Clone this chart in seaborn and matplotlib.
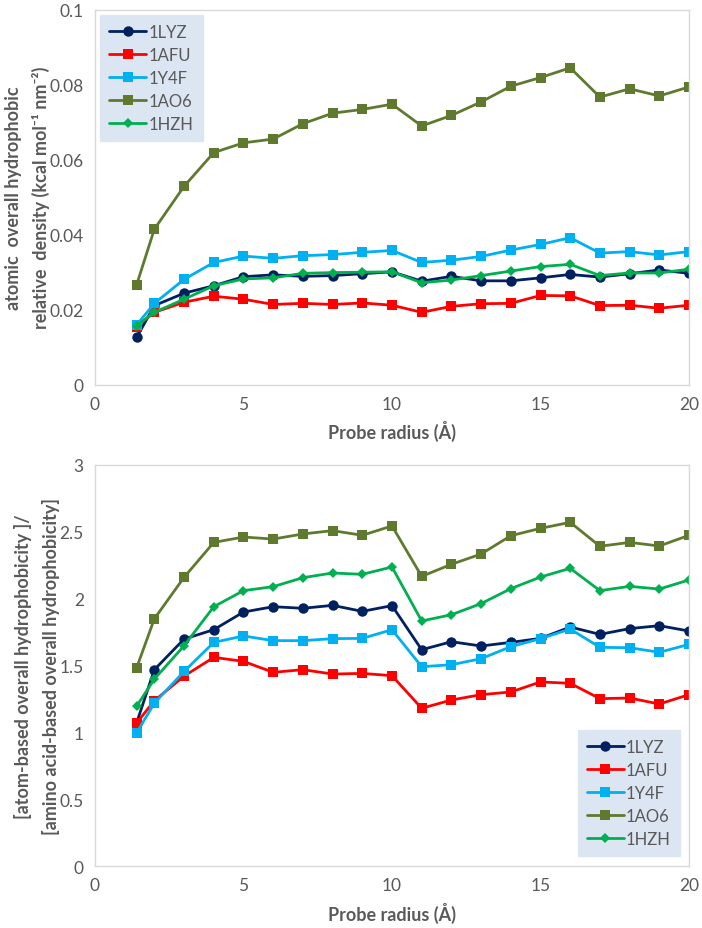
import matplotlib
matplotlib.use("Agg")
import matplotlib.pyplot as plt
import seaborn as sns
import pandas as pd

probe_radius = [1.4, 2, 3, 4, 5, 6, 7, 8, 9, 10, 11, 12, 13, 14, 15, 16, 17, 18, 19, 20]
series_names = ["1LYZ", "1AFU", "1Y4F", "1AO6", "1HZH"]

# Top panel: atomic overall hydrophobic relative density
top_1LYZ = [0.0126, 0.0211, 0.0244, 0.0264, 0.0288, 0.0293, 0.0289, 0.0291, 0.0296, 0.0301,
            0.0276, 0.0289, 0.0277, 0.0277, 0.0285, 0.0294, 0.0287, 0.0296, 0.0306, 0.0297]
top_1AFU = [0.0155, 0.0193, 0.0220, 0.0236, 0.0228, 0.0214, 0.0217, 0.0214, 0.0218, 0.0212,
            0.0193, 0.0209, 0.0216, 0.0217, 0.0238, 0.0237, 0.0211, 0.0212, 0.0204, 0.0212]
top_1Y4F = [0.0159, 0.0217, 0.0281, 0.0326, 0.0343, 0.0337, 0.0344, 0.0347, 0.0353, 0.0358,
            0.0326, 0.0332, 0.0342, 0.0359, 0.0374, 0.0392, 0.0351, 0.0355, 0.0346, 0.0355]
top_1AO6 = [0.0266, 0.0415, 0.0529, 0.0619, 0.0645, 0.0655, 0.0696, 0.0724, 0.0734, 0.0748,
            0.0690, 0.0718, 0.0754, 0.0796, 0.0819, 0.0845, 0.0767, 0.0789, 0.0770, 0.0794]
top_1HZH = [0.0157, 0.0193, 0.0228, 0.0264, 0.0282, 0.0285, 0.0297, 0.0299, 0.0300, 0.0301,
            0.0272, 0.0279, 0.0291, 0.0303, 0.0315, 0.0321, 0.0291, 0.0298, 0.0298, 0.0308]

# Bottom panel: atom-based / amino-acid-based overall hydrophobicity
bot_1LYZ = [1.07, 1.469, 1.698, 1.768, 1.900, 1.940, 1.928, 1.950, 1.905, 1.948,
            1.618, 1.678, 1.646, 1.673, 1.703, 1.788, 1.733, 1.776, 1.798, 1.758]
bot_1AFU = [1.070, 1.237, 1.421, 1.561, 1.531, 1.449, 1.469, 1.436, 1.441, 1.424,
            1.180, 1.242, 1.282, 1.302, 1.377, 1.367, 1.252, 1.257, 1.212, 1.282]
bot_1Y4F = [0.995, 1.219, 1.456, 1.673, 1.721, 1.686, 1.686, 1.701, 1.703, 1.768,
            1.491, 1.506, 1.551, 1.641, 1.701, 1.773, 1.636, 1.633, 1.599, 1.658]
bot_1AO6 = [1.481, 1.850, 2.160, 2.421, 2.461, 2.446, 2.484, 2.509, 2.474, 2.544,
            2.167, 2.257, 2.334, 2.471, 2.526, 2.571, 2.392, 2.421, 2.394, 2.474]
bot_1HZH = [1.195, 1.399, 1.648, 1.940, 2.060, 2.090, 2.157, 2.192, 2.182, 2.237,
            1.833, 1.880, 1.963, 2.075, 2.162, 2.227, 2.060, 2.092, 2.072, 2.140]

x_ticks = [0, 5, 10, 15, 20]
top_yticks = [0, 0.02, 0.04, 0.06, 0.08, 0.1]
top_yticklabels = ["0", "0.02", "0.04", "0.06", "0.08", "0.1"]
bot_yticks = [0, 0.5, 1, 1.5, 2, 2.5, 3]
bot_yticklabels = ["0", "0.5", "1", "1.5", "2", "2.5", "3"]

palette = {"1LYZ": "#002060", "1AFU": "#ff0000", "1Y4F": "#00b0f0",
           "1AO6": "#5f7a2f", "1HZH": "#00b050"}
markers = {"1LYZ": "o", "1AFU": "s", "1Y4F": "s", "1AO6": "s", "1HZH": "D"}
msizes = {"1LYZ": 7.5, "1AFU": 7.5, "1Y4F": 7.5, "1AO6": 7.5, "1HZH": 5.5}

sns.set_theme(style="white")
plt.rcParams["font.family"] = ["Lato", "DejaVu Sans"]

def build(vals):
    rows = []
    for name, v in zip(series_names, vals):
        for xv, yv in zip(probe_radius, v):
            rows.append({"x": xv, "y": yv, "series": name})
    return pd.DataFrame(rows)

df_top = build([top_1LYZ, top_1AFU, top_1Y4F, top_1AO6, top_1HZH])
df_bot = build([bot_1LYZ, bot_1AFU, bot_1Y4F, bot_1AO6, bot_1HZH])

fig = plt.figure(figsize=(7.02, 9.29), dpi=100)
ax1 = fig.add_axes([0.1353, 0.5848, 0.8462, 0.4037])
ax2 = fig.add_axes([0.1353, 0.0667, 0.8462, 0.4317])

grey = "#595959"

def style_ax(ax, df, yticks, yticklabels, ylim, ylabel, legend_loc, legend_anchor):
    for name in series_names:
        sub = df[df["series"] == name]
        sns.lineplot(data=sub, x="x", y="y", ax=ax, color=palette[name],
                     marker=markers[name], markersize=msizes[name],
                     markeredgewidth=0, linewidth=2.0, label=name)
    ax.set_xlim(0, 20)
    ax.set_ylim(*ylim)
    ax.set_xticks(x_ticks)
    ax.set_xticklabels([str(t) for t in x_ticks])
    ax.set_yticks(yticks)
    ax.set_yticklabels(yticklabels)
    ax.tick_params(axis="both", labelsize=12.5, colors=grey, length=0, pad=8)
    for s in ax.spines.values():
        s.set_color("#d9d9d9")
        s.set_linewidth(1.0)
    ax.set_xlabel("Probe radius (Å)", fontsize=13, fontweight="bold", color=grey, labelpad=6)
    ax.set_ylabel(ylabel, fontsize=13, fontweight="bold", color=grey, labelpad=0,
                  linespacing=1.65)
    leg = ax.legend(loc=legend_loc, bbox_to_anchor=legend_anchor, frameon=True,
                    fancybox=False, fontsize=12, handlelength=2.2, handletextpad=0.15,
                    labelspacing=0.42, borderpad=0.55, borderaxespad=0)
    leg.get_frame().set_facecolor("#dce6f2")
    leg.get_frame().set_edgecolor("#dce6f2")
    leg.get_frame().set_alpha(1)
    for t in leg.get_texts():
        t.set_color(grey)

style_ax(ax1, df_top, top_yticks, top_yticklabels, (0, 0.1),
         "atomic  overall hydrophobic\nrelative  density (kcal mol⁻¹ nm⁻²)",
         "upper left", (0.009, 0.987))
style_ax(ax2, df_bot, bot_yticks, bot_yticklabels, (0, 3),
         "[atom-based overall hydrophobicity ]/\n[amino acid-based overall hydrophobicity]",
         "lower right", (0.985, 0.025))

fig.savefig("out.png", dpi=100)
